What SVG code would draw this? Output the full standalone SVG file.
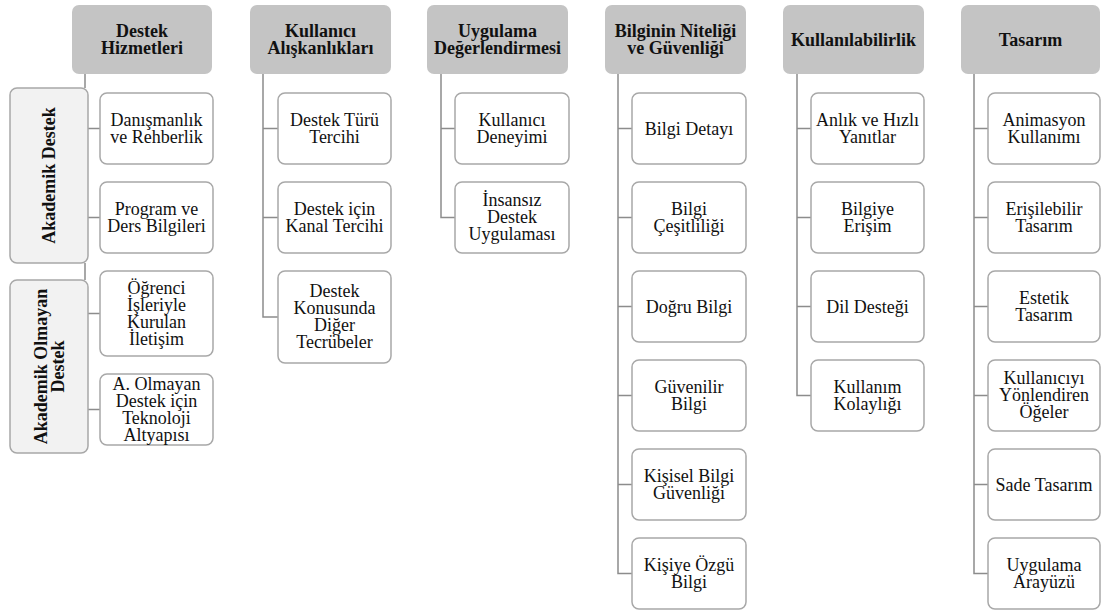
<svg xmlns="http://www.w3.org/2000/svg" width="1101" height="613" viewBox="0 0 1101 613">
<defs>
<rect id="hdr" width="141" height="69" rx="7" fill="#c4c4c4"/>
</defs>
<rect width="1101" height="613" fill="#ffffff"/>
<g id="connectors" stroke="#8c8c8c" stroke-width="1.5" fill="none">
<path d="M85,74V88M85,263V280M88,128.5H100M88,217.5H100M88,313.5H100M88,409.5H100"/>
<path d="M263,74V317H278M263,128.5H278M263,217.5H278"/>
<path d="M441,74V217.5H455M441,128.5H455"/>
<path d="M618,74V573.5H632M618,128.5H632M618,217.5H632M618,306.5H632M618,395.5H632M618,484.5H632"/>
<path d="M797,74V395.5H811M797,128.5H811M797,217.5H811M797,306.5H811"/>
<path d="M974,74V573.5H988M974,128.5H988M974,217.5H988M974,306.5H988M974,395.5H988M974,484.5H988"/>
</g>
<g font-size="18" text-anchor="middle" fill="#111">
<g id="h1"><rect x="72" y="5" width="140" height="69" rx="7" fill="#c4c4c4"/><text font-family="Liberation Serif" font-weight="bold" x="142" y="37">Destek<tspan x="142" dy="17">Hizmetleri</tspan></text></g>
<g id="h2"><rect x="250" y="5" width="141" height="69" rx="7" fill="#c4c4c4"/><text font-family="Liberation Serif" font-weight="bold" x="320.5" y="37">Kullanıcı<tspan x="320.5" dy="17">Alışkanlıkları</tspan></text></g>
<g id="h3"><rect x="427" y="5" width="141" height="69" rx="7" fill="#c4c4c4"/><text font-family="Liberation Serif" font-weight="bold" x="497.5" y="37">Uygulama<tspan x="497.5" dy="17">Değerlendirmesi</tspan></text></g>
<g id="h4"><rect x="605" y="5" width="141" height="69" rx="7" fill="#c4c4c4"/><text font-family="Liberation Serif" font-weight="bold" x="675.5" y="37">Bilginin Niteliği<tspan x="675.5" dy="17">ve Güvenliği</tspan></text></g>
<g id="h5"><rect x="783" y="5" width="141" height="69" rx="7" fill="#c4c4c4"/><text font-family="Liberation Serif" font-weight="bold" x="853.5" y="45.5">Kullanılabilirlik</text></g>
<g id="h6"><rect x="961" y="5" width="139" height="69" rx="7" fill="#c4c4c4"/><text font-family="Liberation Serif" font-weight="bold" x="1030.5" y="45.5">Tasarım</text></g>

<g id="s1"><rect x="10" y="88" width="78" height="175" rx="7" fill="#f2f2f2" stroke="#a8a8a8" stroke-width="1.5"/><text font-family="Liberation Serif" font-weight="bold" transform="translate(49,175.5) rotate(-90)" x="0" y="6">Akademik Destek</text></g>
<g id="s2"><rect x="10" y="280" width="78" height="173" rx="7" fill="#f2f2f2" stroke="#a8a8a8" stroke-width="1.5"/><text font-family="Liberation Serif" font-weight="bold" transform="translate(49,366.5) rotate(-90)" x="0" y="-2.5">Akademik Olmayan<tspan x="0" dy="17">Destek</tspan></text></g>

<g id="c1a"><rect x="100" y="93" width="113" height="71" rx="7" fill="#fff" stroke="#a8a8a8" stroke-width="1.5"/><text font-family="Liberation Serif" x="156.5" y="126">Danışmanlık<tspan x="156.5" dy="17">ve Rehberlik</tspan></text></g>
<g id="c1b"><rect x="100" y="182" width="113" height="71" rx="7" fill="#fff" stroke="#a8a8a8" stroke-width="1.5"/><text font-family="Liberation Serif" x="156.5" y="215">Program ve<tspan x="156.5" dy="17">Ders Bilgileri</tspan></text></g>
<g id="c1c"><rect x="100" y="271" width="113" height="85" rx="7" fill="#fff" stroke="#a8a8a8" stroke-width="1.5"/><text font-family="Liberation Serif" x="156.5" y="293.5">Öğrenci<tspan x="156.5" dy="17">İşleriyle</tspan><tspan x="156.5" dy="17">Kurulan</tspan><tspan x="156.5" dy="17">İletişim</tspan></text></g>
<g id="c1d"><rect x="100" y="374" width="113" height="71" rx="7" fill="#fff" stroke="#a8a8a8" stroke-width="1.5"/><text font-family="Liberation Serif" x="156.5" y="389.5">A. Olmayan<tspan x="156.5" dy="17">Destek için</tspan><tspan x="156.5" dy="17">Teknoloji</tspan><tspan x="156.5" dy="17">Altyapısı</tspan></text></g>

<g id="c2a"><rect x="278" y="93" width="113" height="71" rx="7" fill="#fff" stroke="#a8a8a8" stroke-width="1.5"/><text font-family="Liberation Serif" x="334.5" y="126">Destek Türü<tspan x="334.5" dy="17">Tercihi</tspan></text></g>
<g id="c2b"><rect x="278" y="182" width="113" height="71" rx="7" fill="#fff" stroke="#a8a8a8" stroke-width="1.5"/><text font-family="Liberation Serif" x="334.5" y="215">Destek için<tspan x="334.5" dy="17">Kanal Tercihi</tspan></text></g>
<g id="c2c"><rect x="278" y="271" width="113" height="92" rx="7" fill="#fff" stroke="#a8a8a8" stroke-width="1.5"/><text font-family="Liberation Serif" x="334.5" y="297">Destek<tspan x="334.5" dy="17">Konusunda</tspan><tspan x="334.5" dy="17">Diğer</tspan><tspan x="334.5" dy="17">Tecrübeler</tspan></text></g>

<g id="c3a"><rect x="455" y="93" width="114" height="71" rx="7" fill="#fff" stroke="#a8a8a8" stroke-width="1.5"/><text font-family="Liberation Serif" x="512" y="126">Kullanıcı<tspan x="512" dy="17">Deneyimi</tspan></text></g>
<g id="c3b"><rect x="455" y="182" width="114" height="71" rx="7" fill="#fff" stroke="#a8a8a8" stroke-width="1.5"/><text font-family="Liberation Serif" x="512" y="206">İnsansız<tspan x="512" dy="17">Destek</tspan><tspan x="512" dy="17">Uygulaması</tspan></text></g>

<g id="c4a"><rect x="632" y="93" width="114" height="71" rx="7" fill="#fff" stroke="#a8a8a8" stroke-width="1.5"/><text font-family="Liberation Serif" x="689" y="134.5">Bilgi Detayı</text></g>
<g id="c4b"><rect x="632" y="182" width="114" height="71" rx="7" fill="#fff" stroke="#a8a8a8" stroke-width="1.5"/><text font-family="Liberation Serif" x="689" y="215">Bilgi<tspan x="689" dy="17">Çeşitliliği</tspan></text></g>
<g id="c4c"><rect x="632" y="271" width="114" height="71" rx="7" fill="#fff" stroke="#a8a8a8" stroke-width="1.5"/><text font-family="Liberation Serif" x="689" y="312.5">Doğru Bilgi</text></g>
<g id="c4d"><rect x="632" y="360" width="114" height="71" rx="7" fill="#fff" stroke="#a8a8a8" stroke-width="1.5"/><text font-family="Liberation Serif" x="689" y="393">Güvenilir<tspan x="689" dy="17">Bilgi</tspan></text></g>
<g id="c4e"><rect x="632" y="449" width="114" height="71" rx="7" fill="#fff" stroke="#a8a8a8" stroke-width="1.5"/><text font-family="Liberation Serif" x="689" y="482">Kişisel Bilgi<tspan x="689" dy="17">Güvenliği</tspan></text></g>
<g id="c4f"><rect x="632" y="538" width="114" height="71" rx="7" fill="#fff" stroke="#a8a8a8" stroke-width="1.5"/><text font-family="Liberation Serif" x="689" y="571">Kişiye Özgü<tspan x="689" dy="17">Bilgi</tspan></text></g>

<g id="c5a"><rect x="811" y="93" width="113" height="71" rx="7" fill="#fff" stroke="#a8a8a8" stroke-width="1.5"/><text font-family="Liberation Serif" x="867.5" y="126">Anlık ve Hızlı<tspan x="867.5" dy="17">Yanıtlar</tspan></text></g>
<g id="c5b"><rect x="811" y="182" width="113" height="71" rx="7" fill="#fff" stroke="#a8a8a8" stroke-width="1.5"/><text font-family="Liberation Serif" x="867.5" y="215">Bilgiye<tspan x="867.5" dy="17">Erişim</tspan></text></g>
<g id="c5c"><rect x="811" y="271" width="113" height="71" rx="7" fill="#fff" stroke="#a8a8a8" stroke-width="1.5"/><text font-family="Liberation Serif" x="867.5" y="312.5">Dil Desteği</text></g>
<g id="c5d"><rect x="811" y="360" width="113" height="71" rx="7" fill="#fff" stroke="#a8a8a8" stroke-width="1.5"/><text font-family="Liberation Serif" x="867.5" y="393">Kullanım<tspan x="867.5" dy="17">Kolaylığı</tspan></text></g>

<g id="c6a"><rect x="988" y="93" width="112" height="71" rx="7" fill="#fff" stroke="#a8a8a8" stroke-width="1.5"/><text font-family="Liberation Serif" x="1044" y="126">Animasyon<tspan x="1044" dy="17">Kullanımı</tspan></text></g>
<g id="c6b"><rect x="988" y="182" width="112" height="71" rx="7" fill="#fff" stroke="#a8a8a8" stroke-width="1.5"/><text font-family="Liberation Serif" x="1044" y="215">Erişilebilir<tspan x="1044" dy="17">Tasarım</tspan></text></g>
<g id="c6c"><rect x="988" y="271" width="112" height="71" rx="7" fill="#fff" stroke="#a8a8a8" stroke-width="1.5"/><text font-family="Liberation Serif" x="1044" y="304">Estetik<tspan x="1044" dy="17">Tasarım</tspan></text></g>
<g id="c6d"><rect x="988" y="360" width="112" height="71" rx="7" fill="#fff" stroke="#a8a8a8" stroke-width="1.5"/><text font-family="Liberation Serif" x="1044" y="384">Kullanıcıyı<tspan x="1044" dy="17">Yönlendiren</tspan><tspan x="1044" dy="17">Öğeler</tspan></text></g>
<g id="c6e"><rect x="988" y="449" width="112" height="71" rx="7" fill="#fff" stroke="#a8a8a8" stroke-width="1.5"/><text font-family="Liberation Serif" x="1044" y="490.5">Sade Tasarım</text></g>
<g id="c6f"><rect x="988" y="538" width="112" height="71" rx="7" fill="#fff" stroke="#a8a8a8" stroke-width="1.5"/><text font-family="Liberation Serif" x="1044" y="571">Uygulama<tspan x="1044" dy="17">Arayüzü</tspan></text></g>
</g>
</svg>
